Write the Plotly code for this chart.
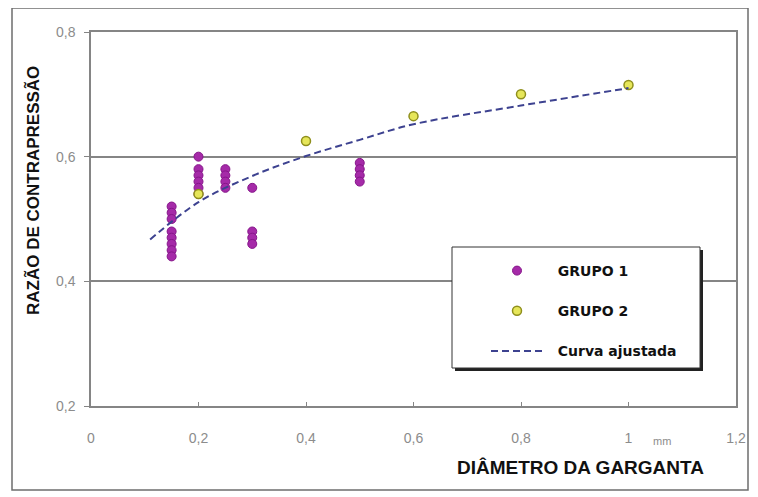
import plotly.graph_objects as go

# ---- data ----
g1_x = [0.15]*8 + [0.2]*6 + [0.25]*4 + [0.3]*4 + [0.5]*4
g1_y = [0.52, 0.51, 0.50, 0.48, 0.47, 0.46, 0.45, 0.44,
        0.60, 0.58, 0.57, 0.56, 0.55, 0.54,
        0.58, 0.57, 0.56, 0.55,
        0.55, 0.48, 0.47, 0.46,
        0.59, 0.58, 0.57, 0.56]
g2_x = [0.2, 0.4, 0.6, 0.8, 1.0]
g2_y = [0.54, 0.625, 0.665, 0.70, 0.715]
curve_x = [0.11, 0.2, 0.3, 0.4, 0.5, 0.6, 0.8, 1.0]
curve_y = [0.467, 0.527, 0.569, 0.601, 0.627, 0.652, 0.682, 0.71]

x_ticks = [0, 0.2, 0.4, 0.6, 0.8, 1.0, 1.2]
y_ticks = [0.2, 0.4, 0.6, 0.8]

names = ["GRUPO 1", "GRUPO 2", "Curva ajustada"]
x_title = "DIÂMETRO DA GARGANTA"
y_title = "RAZÃO DE CONTRAPRESSÃO"
unit = "mm"

# page has an 8px body margin: work in page pixels and convert
OFF = 8
PL, PR, PT, PB = 91, 736, 32, 406          # plot area in page pixels
W, H = 758 - OFF, 497 - OFF


def px(x):
    return (x - PL) / (PR - PL)


def py(y):
    return (PB - y) / (PB - PT)


GRAY = "#858585"
TICKFONT = dict(family="Liberation Sans Narrow, Arial Narrow, sans-serif", size=14, color="#8c8c8c")
PAD = "\u00a0\u00a0"

fig = go.Figure()
fig.add_trace(go.Scatter(
    x=g1_x, y=g1_y, mode="markers", name=PAD + names[0], legendgroup="a",
    marker=dict(symbol="circle", size=9, color="#a52aa8", line=dict(color="#86158a", width=1)),
))
fig.add_trace(go.Scatter(
    x=g2_x, y=g2_y, mode="markers", name=PAD + names[1], legendgroup="b",
    marker=dict(symbol="circle", size=9, color="#e6e65a", line=dict(color="#8f8f1c", width=1.5)),
))
fig.add_trace(go.Scatter(
    x=curve_x, y=curve_y, mode="lines", name=PAD + names[2], legendgroup="c",
    line=dict(color="#3d4290", width=2, dash="7px,4px", shape="spline"),
))

shapes = [
    # outer frame
    dict(type="rect", xref="paper", yref="paper", x0=px(12), x1=px(748), y0=py(490), y1=py(8),
         line=dict(color="#6e6e6e", width=1.5), layer="below"),
    # legend shadow
    dict(type="rect", xref="paper", yref="paper", x0=px(455), x1=px(703), y0=py(371), y1=py(250),
         line=dict(width=0), fillcolor="#222222", layer="above"),
    # legend box
    dict(type="rect", xref="paper", yref="paper", x0=px(452), x1=px(700), y0=py(368), y1=py(247),
         line=dict(color="#333333", width=1), fillcolor="white", layer="above"),
]

annotations = [
    dict(text=x_title, xref="paper", yref="paper", x=px(580), y=py(467),
         xanchor="center", yanchor="middle", showarrow=False,
         font=dict(family="Liberation Sans, Arial, sans-serif", size=19, color="#111111", weight="bold")),
    dict(text=y_title, xref="paper", yref="paper", x=px(33), y=py(191),
         xanchor="center", yanchor="middle", showarrow=False, textangle=-90,
         font=dict(family="Liberation Sans, Arial, sans-serif", size=17, color="#111111", weight="bold")),
    dict(text=unit, xref="paper", yref="paper", x=px(662), y=py(441),
         xanchor="center", yanchor="middle", showarrow=False,
         font=dict(family="Liberation Sans Narrow, Arial Narrow, sans-serif", size=11, color="#8c8c8c")),
]

fig.update_layout(
    width=W, height=H,
    margin=dict(l=PL - OFF, r=W - (PR - OFF), t=PT - OFF, b=H - (PB - OFF)),
    paper_bgcolor="white", plot_bgcolor="white",
    separators=",.",
    showlegend=True,
    legend=dict(
        x=px(486), y=py(255), xanchor="left", yanchor="top",
        bgcolor="rgba(0,0,0,0)", borderwidth=0,
        font=dict(family="DejaVu Sans", size=14, color="#111111", weight="bold"),
        tracegroupgap=19, itemwidth=52,
    ),
    shapes=shapes,
    annotations=annotations,
)
fig.update_xaxes(
    range=[0, 1.2], tickvals=x_ticks, showgrid=False, zeroline=False,
    showline=True, mirror=True, linecolor=GRAY, linewidth=1.5,
    ticks="inside", ticklen=4, tickcolor=GRAY, tickwidth=1,
    tickfont=TICKFONT, ticklabelstandoff=18,
)
fig.update_yaxes(
    range=[0.2, 0.8], tickvals=y_ticks, showgrid=True, gridcolor=GRAY, gridwidth=1.5,
    zeroline=False, showline=True, mirror=True, linecolor=GRAY, linewidth=1.5,
    ticks="outside", ticklen=5, tickcolor=GRAY, tickwidth=1,
    tickfont=TICKFONT, ticklabelstandoff=6,
)

fig.write_html("out.html")
